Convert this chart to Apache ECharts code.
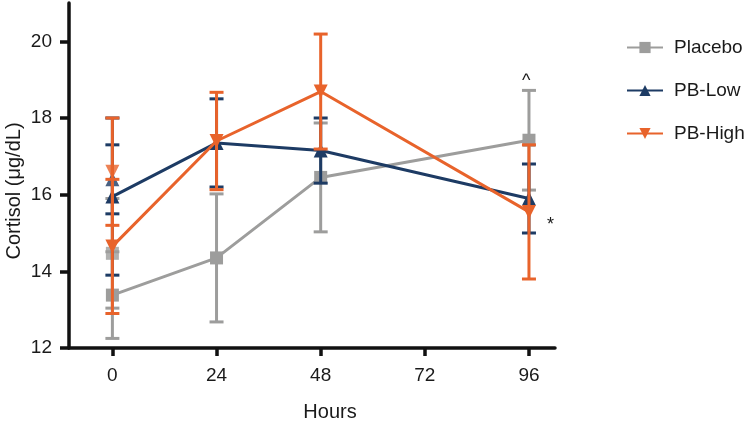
<!DOCTYPE html>
<html>
<head>
<meta charset="utf-8">
<script src="https://cdn.jsdelivr.net/npm/echarts@6/dist/echarts.min.js"></script>
<style>html,body{margin:0;padding:0;background:#fff}#c{width:750px;height:425px}</style>
</head>
<body>
<div id="c"></div>
<script>
const hours = [0, 24, 48, 96];
const xTicks = [0, 24, 48, 72, 96];
const yTicks = [12, 14, 16, 18, 20];

const placebo = [13.38, 14.35, 16.45, 17.42];
const placeboErr = [1.13, 1.67, 1.42, 1.30];
const pbLow = [15.95, 17.35, 17.15, 15.90];
const pbLowErr = [2.05, 1.15, 0.85, 0.90];
const pbHigh = [14.65, 17.40, 18.69, 15.55];
const pbHighErr = [1.75, 1.27, 1.50, 1.75];

// second baseline measurement at hour 0 (unconnected)
const placeboBase2 = [14.47];
const placeboBase2Err = [1.43];
const pbLowBase2 = [16.40];
const pbLowBase2Err = [0.90];
const pbHighBase2 = [16.60];
const pbHighBase2Err = [1.40];

const names = ['Placebo', 'PB-Low', 'PB-High'];
const colors = ['#9d9d9c', '#1d3b64', '#e8632b'];
const symbols = ['rect', 'triangle', 'path://M0,0 L10,0 L5,9 Z'];
const sizes = [13, 14, 14];

const FONT = 'Liberation Sans, Arial, Helvetica, sans-serif';

const groups = [
  [placebo, placeboErr, placeboBase2, placeboBase2Err],
  [pbLow, pbLowErr, pbLowBase2, pbLowBase2Err],
  [pbHigh, pbHighErr, pbHighBase2, pbHighBase2Err]
];

function errRenderer(color) {
  return function (params, api) {
    const x = api.value(0), m = api.value(1), e = api.value(2);
    const t = api.coord([x, m + e]);
    const b = api.coord([x, m - e]);
    const w = 7;
    const style = { stroke: color, lineWidth: 3, fill: null };
    return {
      type: 'group',
      children: [
        { type: 'line', shape: { x1: t[0], y1: t[1], x2: b[0], y2: b[1] }, style },
        { type: 'line', shape: { x1: t[0] - w, y1: t[1], x2: t[0] + w, y2: t[1] }, style },
        { type: 'line', shape: { x1: b[0] - w, y1: b[1], x2: b[0] + w, y2: b[1] }, style }
      ]
    };
  };
}

const series = [];
groups.forEach((g, i) => {
  const [vals, errs, b2, b2e] = g;
  const errData = hours.map((h, k) => [h, vals[k], errs[k]]);
  b2.forEach((v, k) => errData.push([0, v, b2e[k]]));
  series.push({
    type: 'custom',
    name: names[i] + '-err',
    renderItem: errRenderer(colors[i]),
    encode: { x: 0, y: 1 },
    data: errData,
    z: 2 + i * 3,
    silent: true
  });
  series.push({
    type: 'scatter',
    name: names[i] + '-b2',
    data: b2.map(v => [0, v]),
    symbol: symbols[i],
    symbolSize: sizes[i],
    itemStyle: { color: colors[i] },
    z: 3 + i * 3,
    silent: true
  });
  series.push({
    type: 'line',
    name: names[i],
    data: hours.map((h, k) => [h, vals[k]]),
    symbol: symbols[i],
    symbolSize: sizes[i],
    showSymbol: true,
    lineStyle: { color: colors[i], width: 3 },
    itemStyle: { color: colors[i] },
    z: 4 + i * 3,
    silent: true,
    animation: false
  });
});

const chart = echarts.init(document.getElementById('c'), null, { renderer: 'canvas' });
chart.setOption({
  animation: false,
  backgroundColor: '#fff',
  grid: { left: 69, right: 195, top: 3, bottom: 77, containLabel: false },
  xAxis: {
    type: 'value', min: -10, max: 102,
    axisLine: { show: true, lineStyle: { color: '#111', width: 3.5 } },
    axisTick: { show: true, length: 8, lineStyle: { color: '#111', width: 3.5 }, customValues: xTicks },
    axisLabel: { fontSize: 19, color: '#1a1a1a', fontFamily: FONT, margin: 18, customValues: xTicks },
    splitLine: { show: false }
  },
  yAxis: {
    type: 'value', min: 12, max: 21, interval: 2,
    axisLine: { show: true, onZero: false, lineStyle: { color: '#111', width: 3.5 } },
    axisTick: { show: true, length: 9, lineStyle: { color: '#111', width: 3.5 }, customValues: yTicks },
    axisLabel: { fontSize: 19, color: '#1a1a1a', fontFamily: FONT, margin: 17, customValues: yTicks },
    splitLine: { show: false }
  },
  legend: {
    data: names,
    orient: 'vertical',
    left: 621, top: 33,
    itemWidth: 36, itemHeight: 14, itemGap: 24,
    textStyle: { fontSize: 19, color: '#1a1a1a', fontFamily: FONT, padding: [0, 0, 0, 6] },
    selectedMode: false
  },
  graphic: [
    { type: 'text', x: 14, y: 191, rotation: Math.PI / 2,
      style: { text: 'Cortisol (μg/dL)', fontSize: 20, fill: '#1a1a1a', fontFamily: FONT, align: 'center', verticalAlign: 'middle' } },
    { type: 'text', x: 330, y: 412,
      style: { text: 'Hours', fontSize: 20, fill: '#1a1a1a', fontFamily: FONT, align: 'center', verticalAlign: 'middle' } },
    { type: 'text', left: 522, top: 72, style: { text: '^', fontSize: 18, fill: '#1a1a1a', fontFamily: FONT } },
    { type: 'text', left: 547, top: 216, style: { text: '*', fontSize: 18, fill: '#1a1a1a', fontFamily: FONT } }
  ],
  series
});
</script>
</body>
</html>
